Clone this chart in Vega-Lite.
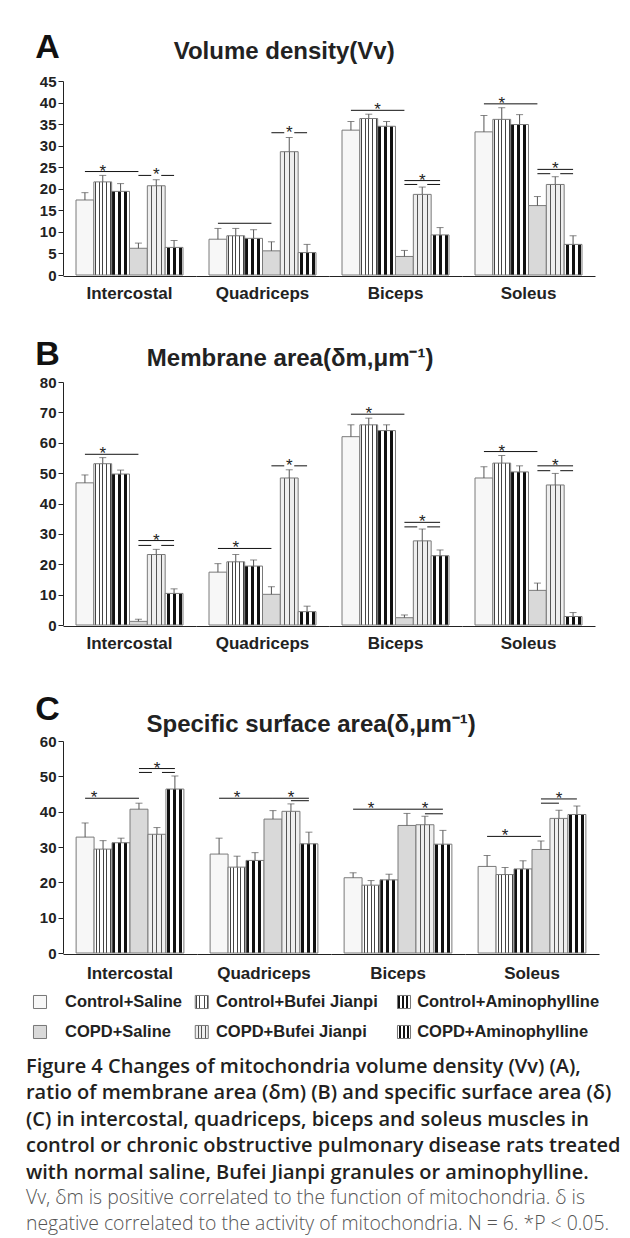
{
  "$schema": "https://vega.github.io/schema/vega-lite/v6.json",
  "padding": {"left": 25, "top": 31, "right": 0, "bottom": 2},
  "background": "white",
  "datasets": {
    "A": [
      {"muscle":"Intercostal","group":"Control+Saline","mean":17.4,"top":19.1},
      {"muscle":"Intercostal","group":"Control+Bufei Jianpi","mean":21.6,"top":23.1},
      {"muscle":"Intercostal","group":"Control+Aminophylline","mean":19.4,"top":21.2},
      {"muscle":"Intercostal","group":"COPD+Saline","mean":6.2,"top":7.4},
      {"muscle":"Intercostal","group":"COPD+Bufei Jianpi","mean":20.7,"top":22.1},
      {"muscle":"Intercostal","group":"COPD+Aminophylline","mean":6.4,"top":8.0},
      {"muscle":"Quadriceps","group":"Control+Saline","mean":8.3,"top":10.8},
      {"muscle":"Quadriceps","group":"Control+Bufei Jianpi","mean":9.1,"top":10.8},
      {"muscle":"Quadriceps","group":"Control+Aminophylline","mean":8.5,"top":10.5},
      {"muscle":"Quadriceps","group":"COPD+Saline","mean":5.6,"top":7.7},
      {"muscle":"Quadriceps","group":"COPD+Bufei Jianpi","mean":28.6,"top":31.9},
      {"muscle":"Quadriceps","group":"COPD+Aminophylline","mean":5.2,"top":7.1},
      {"muscle":"Biceps","group":"Control+Saline","mean":33.6,"top":35.6},
      {"muscle":"Biceps","group":"Control+Bufei Jianpi","mean":36.3,"top":37.3},
      {"muscle":"Biceps","group":"Control+Aminophylline","mean":34.5,"top":35.6},
      {"muscle":"Biceps","group":"COPD+Saline","mean":4.3,"top":5.7},
      {"muscle":"Biceps","group":"COPD+Bufei Jianpi","mean":18.7,"top":20.4},
      {"muscle":"Biceps","group":"COPD+Aminophylline","mean":9.3,"top":11.0},
      {"muscle":"Soleus","group":"Control+Saline","mean":33.2,"top":37.0},
      {"muscle":"Soleus","group":"Control+Bufei Jianpi","mean":36.1,"top":38.8},
      {"muscle":"Soleus","group":"Control+Aminophylline","mean":34.9,"top":37.2},
      {"muscle":"Soleus","group":"COPD+Saline","mean":16.1,"top":18.2},
      {"muscle":"Soleus","group":"COPD+Bufei Jianpi","mean":21.0,"top":22.8},
      {"muscle":"Soleus","group":"COPD+Aminophylline","mean":7.1,"top":9.1},
      {"muscle":"Intercostal","kind":"full","from":"Control+Saline","to":"COPD+Saline","lvl":24.0},
      {"muscle":"Intercostal","kind":"star","at":"Control+Bufei Jianpi","lvl":24.0},
      {"muscle":"Intercostal","kind":"split","from":"COPD+Saline","mid":"COPD+Bufei Jianpi","to":"COPD+Aminophylline","lvl":23.1},
      {"muscle":"Intercostal","kind":"star","at":"COPD+Bufei Jianpi","lvl":23.1},
      {"muscle":"Quadriceps","kind":"full","from":"Control+Saline","to":"COPD+Saline","lvl":12.0},
      {"muscle":"Quadriceps","kind":"split","from":"COPD+Saline","mid":"COPD+Bufei Jianpi","to":"COPD+Aminophylline","lvl":33.0},
      {"muscle":"Quadriceps","kind":"star","at":"COPD+Bufei Jianpi","lvl":33.0},
      {"muscle":"Biceps","kind":"full","from":"Control+Saline","to":"COPD+Saline","lvl":38.2},
      {"muscle":"Biceps","kind":"starE","at":"Control+Bufei Jianpi","lvl":38.2},
      {"muscle":"Biceps","kind":"full","from":"COPD+Saline","to":"COPD+Aminophylline","lvl":21.9},
      {"muscle":"Biceps","kind":"split","from":"COPD+Saline","mid":"COPD+Bufei Jianpi","to":"COPD+Aminophylline","lvl":21.0},
      {"muscle":"Biceps","kind":"star","at":"COPD+Bufei Jianpi","lvl":21.9},
      {"muscle":"Soleus","kind":"full","from":"Control+Saline","to":"COPD+Saline","lvl":39.7},
      {"muscle":"Soleus","kind":"star","at":"Control+Bufei Jianpi","lvl":39.7},
      {"muscle":"Soleus","kind":"full","from":"COPD+Saline","to":"COPD+Aminophylline","lvl":24.5},
      {"muscle":"Soleus","kind":"split","from":"COPD+Saline","mid":"COPD+Bufei Jianpi","to":"COPD+Aminophylline","lvl":23.5},
      {"muscle":"Soleus","kind":"star","at":"COPD+Bufei Jianpi","lvl":24.5}
    ],
    "B": [
      {"muscle":"Intercostal","group":"Control+Saline","mean":46.8,"top":49.4},
      {"muscle":"Intercostal","group":"Control+Bufei Jianpi","mean":53.1,"top":55.1},
      {"muscle":"Intercostal","group":"Control+Aminophylline","mean":49.7,"top":51.0},
      {"muscle":"Intercostal","group":"COPD+Saline","mean":1.2,"top":1.9},
      {"muscle":"Intercostal","group":"COPD+Bufei Jianpi","mean":23.2,"top":24.9},
      {"muscle":"Intercostal","group":"COPD+Aminophylline","mean":10.4,"top":11.9},
      {"muscle":"Quadriceps","group":"Control+Saline","mean":17.4,"top":20.2},
      {"muscle":"Quadriceps","group":"Control+Bufei Jianpi","mean":20.8,"top":23.2},
      {"muscle":"Quadriceps","group":"Control+Aminophylline","mean":19.4,"top":21.4},
      {"muscle":"Quadriceps","group":"COPD+Saline","mean":10.1,"top":12.6},
      {"muscle":"Quadriceps","group":"COPD+Bufei Jianpi","mean":48.4,"top":51.1},
      {"muscle":"Quadriceps","group":"COPD+Aminophylline","mean":4.4,"top":6.2},
      {"muscle":"Biceps","group":"Control+Saline","mean":62.0,"top":65.9},
      {"muscle":"Biceps","group":"Control+Bufei Jianpi","mean":65.9,"top":68.1},
      {"muscle":"Biceps","group":"Control+Aminophylline","mean":64.0,"top":65.9},
      {"muscle":"Biceps","group":"COPD+Saline","mean":2.4,"top":3.3},
      {"muscle":"Biceps","group":"COPD+Bufei Jianpi","mean":27.7,"top":31.6},
      {"muscle":"Biceps","group":"COPD+Aminophylline","mean":22.8,"top":24.7},
      {"muscle":"Soleus","group":"Control+Saline","mean":48.4,"top":52.1},
      {"muscle":"Soleus","group":"Control+Bufei Jianpi","mean":53.3,"top":55.8},
      {"muscle":"Soleus","group":"Control+Aminophylline","mean":50.4,"top":52.4},
      {"muscle":"Soleus","group":"COPD+Saline","mean":11.4,"top":13.8},
      {"muscle":"Soleus","group":"COPD+Bufei Jianpi","mean":46.1,"top":49.9},
      {"muscle":"Soleus","group":"COPD+Aminophylline","mean":2.8,"top":4.1},
      {"muscle":"Intercostal","kind":"full","from":"Control+Saline","to":"COPD+Saline","lvl":56.2},
      {"muscle":"Intercostal","kind":"star","at":"Control+Bufei Jianpi","lvl":56.2},
      {"muscle":"Intercostal","kind":"full","from":"COPD+Saline","to":"COPD+Aminophylline","lvl":27.8},
      {"muscle":"Intercostal","kind":"split","from":"COPD+Saline","mid":"COPD+Bufei Jianpi","to":"COPD+Aminophylline","lvl":26.2},
      {"muscle":"Intercostal","kind":"star","at":"COPD+Bufei Jianpi","lvl":27.8},
      {"muscle":"Quadriceps","kind":"full","from":"Control+Saline","to":"COPD+Saline","lvl":25.2},
      {"muscle":"Quadriceps","kind":"star","at":"Control+Bufei Jianpi","lvl":25.2},
      {"muscle":"Quadriceps","kind":"split","from":"COPD+Saline","mid":"COPD+Bufei Jianpi","to":"COPD+Aminophylline","lvl":52.4},
      {"muscle":"Quadriceps","kind":"star","at":"COPD+Bufei Jianpi","lvl":52.4},
      {"muscle":"Biceps","kind":"full","from":"Control+Saline","to":"COPD+Saline","lvl":69.4},
      {"muscle":"Biceps","kind":"star","at":"Control+Bufei Jianpi","lvl":69.4},
      {"muscle":"Biceps","kind":"full","from":"COPD+Saline","to":"COPD+Aminophylline","lvl":33.8},
      {"muscle":"Biceps","kind":"split","from":"COPD+Saline","mid":"COPD+Bufei Jianpi","to":"COPD+Aminophylline","lvl":32.3},
      {"muscle":"Biceps","kind":"star","at":"COPD+Bufei Jianpi","lvl":33.8},
      {"muscle":"Soleus","kind":"full","from":"Control+Saline","to":"COPD+Saline","lvl":57.1},
      {"muscle":"Soleus","kind":"star","at":"Control+Bufei Jianpi","lvl":57.1},
      {"muscle":"Soleus","kind":"full","from":"COPD+Saline","to":"COPD+Aminophylline","lvl":52.4},
      {"muscle":"Soleus","kind":"split","from":"COPD+Saline","mid":"COPD+Bufei Jianpi","to":"COPD+Aminophylline","lvl":50.8},
      {"muscle":"Soleus","kind":"star","at":"COPD+Bufei Jianpi","lvl":52.4}
    ],
    "C": [
      {"muscle":"Intercostal","group":"Control+Saline","mean":32.8,"top":36.8},
      {"muscle":"Intercostal","group":"Control+Bufei Jianpi","mean":29.4,"top":31.8},
      {"muscle":"Intercostal","group":"Control+Aminophylline","mean":31.2,"top":32.5},
      {"muscle":"Intercostal","group":"COPD+Saline","mean":40.7,"top":42.4},
      {"muscle":"Intercostal","group":"COPD+Bufei Jianpi","mean":33.6,"top":35.5},
      {"muscle":"Intercostal","group":"COPD+Aminophylline","mean":46.4,"top":50.1},
      {"muscle":"Quadriceps","group":"Control+Saline","mean":28.0,"top":32.5},
      {"muscle":"Quadriceps","group":"Control+Bufei Jianpi","mean":24.3,"top":27.4},
      {"muscle":"Quadriceps","group":"Control+Aminophylline","mean":26.2,"top":28.4},
      {"muscle":"Quadriceps","group":"COPD+Saline","mean":37.9,"top":40.3},
      {"muscle":"Quadriceps","group":"COPD+Bufei Jianpi","mean":40.1,"top":42.2},
      {"muscle":"Quadriceps","group":"COPD+Aminophylline","mean":30.9,"top":34.2},
      {"muscle":"Biceps","group":"Control+Saline","mean":21.3,"top":22.7},
      {"muscle":"Biceps","group":"Control+Bufei Jianpi","mean":19.2,"top":20.5},
      {"muscle":"Biceps","group":"Control+Aminophylline","mean":20.7,"top":22.3},
      {"muscle":"Biceps","group":"COPD+Saline","mean":36.1,"top":39.5},
      {"muscle":"Biceps","group":"COPD+Bufei Jianpi","mean":36.3,"top":38.7},
      {"muscle":"Biceps","group":"COPD+Aminophylline","mean":30.8,"top":34.7},
      {"muscle":"Soleus","group":"Control+Saline","mean":24.5,"top":27.6},
      {"muscle":"Soleus","group":"Control+Bufei Jianpi","mean":22.2,"top":24.2},
      {"muscle":"Soleus","group":"Control+Aminophylline","mean":23.8,"top":26.1},
      {"muscle":"Soleus","group":"COPD+Saline","mean":29.3,"top":31.7},
      {"muscle":"Soleus","group":"COPD+Bufei Jianpi","mean":38.1,"top":40.4},
      {"muscle":"Soleus","group":"COPD+Aminophylline","mean":39.2,"top":41.6},
      {"muscle":"Intercostal","kind":"full","from":"Control+Saline","to":"COPD+Saline","lvl":43.8},
      {"muscle":"Intercostal","kind":"starE","at":"Control+Saline","lvl":43.8},
      {"muscle":"Intercostal","kind":"full","from":"COPD+Saline","to":"COPD+Aminophylline","lvl":52.2},
      {"muscle":"Intercostal","kind":"split","from":"COPD+Saline","mid":"COPD+Bufei Jianpi","to":"COPD+Aminophylline","lvl":51.1},
      {"muscle":"Intercostal","kind":"star","at":"COPD+Bufei Jianpi","lvl":52.2},
      {"muscle":"Quadriceps","kind":"full","from":"Control+Saline","to":"COPD+Saline","lvl":43.8},
      {"muscle":"Quadriceps","kind":"star","at":"Control+Bufei Jianpi","lvl":43.8},
      {"muscle":"Quadriceps","kind":"full","from":"COPD+Saline","to":"COPD+Aminophylline","lvl":43.8},
      {"muscle":"Quadriceps","kind":"full","from":"COPD+Bufei Jianpi","to":"COPD+Aminophylline","lvl":43.1},
      {"muscle":"Quadriceps","kind":"star","at":"COPD+Bufei Jianpi","lvl":43.8},
      {"muscle":"Biceps","kind":"full","from":"Control+Saline","to":"COPD+Saline","lvl":40.7},
      {"muscle":"Biceps","kind":"star","at":"Control+Bufei Jianpi","lvl":40.7},
      {"muscle":"Biceps","kind":"full","from":"COPD+Saline","to":"COPD+Aminophylline","lvl":40.7},
      {"muscle":"Biceps","kind":"full","from":"COPD+Bufei Jianpi","to":"COPD+Aminophylline","lvl":39.4},
      {"muscle":"Biceps","kind":"star","at":"COPD+Bufei Jianpi","lvl":40.7},
      {"muscle":"Soleus","kind":"full","from":"Control+Saline","to":"COPD+Saline","lvl":33.0},
      {"muscle":"Soleus","kind":"star","at":"Control+Bufei Jianpi","lvl":33.0},
      {"muscle":"Soleus","kind":"full","from":"COPD+Saline","to":"COPD+Aminophylline","lvl":43.6},
      {"muscle":"Soleus","kind":"full","from":"COPD+Saline","to":"COPD+Bufei Jianpi","lvl":42.4},
      {"muscle":"Soleus","kind":"star","at":"COPD+Bufei Jianpi","lvl":43.6}
    ],
    "legend": [
      {"model":"Control","treatment":"Saline","group":"Control+Saline"},
      {"model":"Control","treatment":"Bufei Jianpi","group":"Control+Bufei Jianpi"},
      {"model":"Control","treatment":"Aminophylline","group":"Control+Aminophylline"},
      {"model":"COPD","treatment":"Saline","group":"COPD+Saline"},
      {"model":"COPD","treatment":"Bufei Jianpi","group":"COPD+Bufei Jianpi"},
      {"model":"COPD","treatment":"Aminophylline","group":"COPD+Aminophylline"}
    ]
  },
  "vconcat": [
    {
      "spacing": 41,
      "vconcat": [
        {
          "spacing": 36,
          "vconcat": [
            {
              "title": {"text": "A", "anchor": "start", "fontSize": 34, "fontWeight": "bold", "font": "Liberation Sans", "color": "#111", "dx": -4, "offset": -25},
              "vconcat": [
                {
                  "data": {"name": "A"},
                  "title": {"text": "Volume density(Vv)", "anchor": "middle", "fontSize": 24, "fontWeight": "bold", "font": "Liberation Sans", "color": "#222", "dx": -33, "offset": 10},
                  "facet": {"column": {"field": "muscle", "type": "nominal", "title": null, "sort": ["Intercostal","Quadriceps","Biceps","Soleus"], "header": {"title": null, "labelOrient": "bottom", "labelPadding": 10}}},
                  "spacing": {"column": 0},
                  "spec": {
                    "width": 133, "height": 194,
                    "layer": [
                      {"transform": [{"filter": "isValid(datum.mean)"}],
                       "mark": {"type": "bar", "stroke": "#7a7a7a", "strokeWidth": 1},
                       "encoding": {
                         "x": {"field": "group", "type": "nominal", "title": null, "scale": {"domain": ["Control+Saline","Control+Bufei Jianpi","Control+Aminophylline","COPD+Saline","COPD+Bufei Jianpi","COPD+Aminophylline"], "paddingInner": 0, "paddingOuter": 0.73}},
                         "y": {"field": "mean", "type": "quantitative", "title": null, "scale": {"domain": [0, 45], "nice": false}, "axis": {"values": [0,5,10,15,20,25,30,35,40,45], "title": null}},
                         "fill": {"condition": [
                           {"test": "datum.group === 'Control+Saline'", "value": "#f7f7f7"},
                           {"test": "datum.group === 'Control+Bufei Jianpi'", "value": {"gradient": "linear", "x1": 0, "y1": 0, "x2": 1, "y2": 0, "stops": [{"offset": 0, "color": "#fff"}, {"offset": 0.08, "color": "#fff"}, {"offset": 0.08, "color": "#444"}, {"offset": 0.14, "color": "#444"}, {"offset": 0.14, "color": "#fff"}, {"offset": 0.28, "color": "#fff"}, {"offset": 0.28, "color": "#444"}, {"offset": 0.34, "color": "#444"}, {"offset": 0.34, "color": "#fff"}, {"offset": 0.48, "color": "#fff"}, {"offset": 0.48, "color": "#444"}, {"offset": 0.54, "color": "#444"}, {"offset": 0.54, "color": "#fff"}, {"offset": 0.68, "color": "#fff"}, {"offset": 0.68, "color": "#444"}, {"offset": 0.74, "color": "#444"}, {"offset": 0.74, "color": "#fff"}, {"offset": 0.88, "color": "#fff"}, {"offset": 0.88, "color": "#444"}, {"offset": 0.94, "color": "#444"}, {"offset": 0.94, "color": "#fff"}, {"offset": 1, "color": "#fff"}]}},
                           {"test": "datum.group === 'Control+Aminophylline'", "value": {"gradient": "linear", "x1": 0, "y1": 0, "x2": 1, "y2": 0, "stops": [{"offset": 0, "color": "#111"}, {"offset": 0.167, "color": "#111"}, {"offset": 0.167, "color": "#fff"}, {"offset": 0.333, "color": "#fff"}, {"offset": 0.333, "color": "#111"}, {"offset": 0.5, "color": "#111"}, {"offset": 0.5, "color": "#fff"}, {"offset": 0.667, "color": "#fff"}, {"offset": 0.667, "color": "#111"}, {"offset": 0.833, "color": "#111"}, {"offset": 0.833, "color": "#fff"}, {"offset": 1, "color": "#fff"}]}},
                           {"test": "datum.group === 'COPD+Saline'", "value": "#d9d9d9"},
                           {"test": "datum.group === 'COPD+Bufei Jianpi'", "value": {"gradient": "linear", "x1": 0, "y1": 0, "x2": 1, "y2": 0, "stops": [{"offset": 0, "color": "#eee"}, {"offset": 0.2, "color": "#eee"}, {"offset": 0.2, "color": "#555"}, {"offset": 0.26, "color": "#555"}, {"offset": 0.26, "color": "#eee"}, {"offset": 0.47, "color": "#eee"}, {"offset": 0.47, "color": "#555"}, {"offset": 0.53, "color": "#555"}, {"offset": 0.53, "color": "#eee"}, {"offset": 0.74, "color": "#eee"}, {"offset": 0.74, "color": "#555"}, {"offset": 0.8, "color": "#555"}, {"offset": 0.8, "color": "#eee"}, {"offset": 1, "color": "#eee"}]}},
                           {"test": "datum.group === 'COPD+Aminophylline'", "value": {"gradient": "linear", "x1": 0, "y1": 0, "x2": 1, "y2": 0, "stops": [{"offset": 0, "color": "#fff"}, {"offset": 0.083, "color": "#fff"}, {"offset": 0.083, "color": "#111"}, {"offset": 0.25, "color": "#111"}, {"offset": 0.25, "color": "#fff"}, {"offset": 0.417, "color": "#fff"}, {"offset": 0.417, "color": "#111"}, {"offset": 0.583, "color": "#111"}, {"offset": 0.583, "color": "#fff"}, {"offset": 0.75, "color": "#fff"}, {"offset": 0.75, "color": "#111"}, {"offset": 0.917, "color": "#111"}, {"offset": 0.917, "color": "#fff"}, {"offset": 1, "color": "#fff"}]}}
                         ], "value": "#fff"}
                       }},
                      {"transform": [{"filter": "isValid(datum.mean)"}],
                       "mark": {"type": "rule", "color": "#555", "strokeWidth": 1},
                       "encoding": {"x": {"field": "group", "type": "nominal", "bandPosition": 0.5, "title": null}, "y": {"field": "mean", "type": "quantitative", "title": null, "axis": {"values": [0,5,10,15,20,25,30,35,40,45], "title": null}}, "y2": {"field": "top"}}},
                      {"transform": [{"filter": "isValid(datum.mean)"}],
                       "mark": {"type": "tick", "color": "#555", "thickness": 1, "size": 7},
                       "encoding": {"x": {"field": "group", "type": "nominal", "title": null}, "y": {"field": "top", "type": "quantitative", "title": null, "axis": {"values": [0,5,10,15,20,25,30,35,40,45], "title": null}}}},
                      {"transform": [{"filter": "datum.kind === 'full'"}],
                       "mark": {"type": "rule", "color": "#111", "strokeWidth": 1},
                       "encoding": {"x": {"field": "from", "type": "nominal", "bandPosition": 0.5, "title": null}, "x2": {"field": "to", "bandPosition": 0.5}, "y": {"field": "lvl", "type": "quantitative", "title": null, "axis": {"values": [0,5,10,15,20,25,30,35,40,45], "title": null}}}},
                      {"transform": [{"filter": "datum.kind === 'split'"}],
                       "mark": {"type": "rule", "color": "#111", "strokeWidth": 1},
                       "encoding": {"x": {"field": "from", "type": "nominal", "bandPosition": 0.5, "title": null}, "x2": {"field": "mid", "bandPosition": 0.22}, "y": {"field": "lvl", "type": "quantitative", "title": null, "axis": {"values": [0,5,10,15,20,25,30,35,40,45], "title": null}}}},
                      {"transform": [{"filter": "datum.kind === 'split'"}],
                       "mark": {"type": "rule", "color": "#111", "strokeWidth": 1},
                       "encoding": {"x": {"field": "mid", "type": "nominal", "bandPosition": 0.78, "title": null}, "x2": {"field": "to", "bandPosition": 0.5}, "y": {"field": "lvl", "type": "quantitative", "title": null, "axis": {"values": [0,5,10,15,20,25,30,35,40,45], "title": null}}}},
                      {"transform": [{"filter": "datum.kind === 'star'"}],
                       "mark": {"type": "text", "text": "*", "fontSize": 17, "dy": 5, "baseline": "alphabetic", "color": "#222"},
                       "encoding": {"x": {"field": "at", "type": "nominal", "bandPosition": 0.5, "title": null}, "y": {"field": "lvl", "type": "quantitative", "title": null, "axis": {"values": [0,5,10,15,20,25,30,35,40,45], "title": null}}}},
                      {"transform": [{"filter": "datum.kind === 'starE'"}],
                       "mark": {"type": "text", "text": "*", "fontSize": 17, "dy": 5, "baseline": "alphabetic", "color": "#222"},
                       "encoding": {"x": {"field": "at", "type": "nominal", "bandPosition": 1, "title": null}, "y": {"field": "lvl", "type": "quantitative", "title": null, "axis": {"values": [0,5,10,15,20,25,30,35,40,45], "title": null}}}}
                    ]
                  }
                }
              ]
            },
            {
              "title": {"text": "B", "anchor": "start", "fontSize": 34, "fontWeight": "bold", "font": "Liberation Sans", "color": "#111", "dx": -4, "offset": -25},
              "vconcat": [
                {
                  "data": {"name": "B"},
                  "title": {"text": "Membrane area(δm,μm⁻¹)", "anchor": "middle", "fontSize": 24, "fontWeight": "bold", "font": "Liberation Sans", "color": "#222", "dx": -27, "offset": 4},
                  "facet": {"column": {"field": "muscle", "type": "nominal", "title": null, "sort": ["Intercostal","Quadriceps","Biceps","Soleus"], "header": {"title": null, "labelOrient": "bottom", "labelPadding": 10}}},
                  "spacing": {"column": 0},
                  "spec": {
                    "width": 133, "height": 243,
                    "layer": [
                      {"transform": [{"filter": "isValid(datum.mean)"}],
                       "mark": {"type": "bar", "stroke": "#7a7a7a", "strokeWidth": 1},
                       "encoding": {
                         "x": {"field": "group", "type": "nominal", "title": null, "scale": {"domain": ["Control+Saline","Control+Bufei Jianpi","Control+Aminophylline","COPD+Saline","COPD+Bufei Jianpi","COPD+Aminophylline"], "paddingInner": 0, "paddingOuter": 0.73}},
                         "y": {"field": "mean", "type": "quantitative", "title": null, "scale": {"domain": [0, 80], "nice": false}, "axis": {"values": [0,10,20,30,40,50,60,70,80], "title": null}},
                         "fill": {"condition": [
                           {"test": "datum.group === 'Control+Saline'", "value": "#f7f7f7"},
                           {"test": "datum.group === 'Control+Bufei Jianpi'", "value": {"gradient": "linear", "x1": 0, "y1": 0, "x2": 1, "y2": 0, "stops": [{"offset": 0, "color": "#fff"}, {"offset": 0.08, "color": "#fff"}, {"offset": 0.08, "color": "#444"}, {"offset": 0.14, "color": "#444"}, {"offset": 0.14, "color": "#fff"}, {"offset": 0.28, "color": "#fff"}, {"offset": 0.28, "color": "#444"}, {"offset": 0.34, "color": "#444"}, {"offset": 0.34, "color": "#fff"}, {"offset": 0.48, "color": "#fff"}, {"offset": 0.48, "color": "#444"}, {"offset": 0.54, "color": "#444"}, {"offset": 0.54, "color": "#fff"}, {"offset": 0.68, "color": "#fff"}, {"offset": 0.68, "color": "#444"}, {"offset": 0.74, "color": "#444"}, {"offset": 0.74, "color": "#fff"}, {"offset": 0.88, "color": "#fff"}, {"offset": 0.88, "color": "#444"}, {"offset": 0.94, "color": "#444"}, {"offset": 0.94, "color": "#fff"}, {"offset": 1, "color": "#fff"}]}},
                           {"test": "datum.group === 'Control+Aminophylline'", "value": {"gradient": "linear", "x1": 0, "y1": 0, "x2": 1, "y2": 0, "stops": [{"offset": 0, "color": "#111"}, {"offset": 0.167, "color": "#111"}, {"offset": 0.167, "color": "#fff"}, {"offset": 0.333, "color": "#fff"}, {"offset": 0.333, "color": "#111"}, {"offset": 0.5, "color": "#111"}, {"offset": 0.5, "color": "#fff"}, {"offset": 0.667, "color": "#fff"}, {"offset": 0.667, "color": "#111"}, {"offset": 0.833, "color": "#111"}, {"offset": 0.833, "color": "#fff"}, {"offset": 1, "color": "#fff"}]}},
                           {"test": "datum.group === 'COPD+Saline'", "value": "#d9d9d9"},
                           {"test": "datum.group === 'COPD+Bufei Jianpi'", "value": {"gradient": "linear", "x1": 0, "y1": 0, "x2": 1, "y2": 0, "stops": [{"offset": 0, "color": "#eee"}, {"offset": 0.2, "color": "#eee"}, {"offset": 0.2, "color": "#555"}, {"offset": 0.26, "color": "#555"}, {"offset": 0.26, "color": "#eee"}, {"offset": 0.47, "color": "#eee"}, {"offset": 0.47, "color": "#555"}, {"offset": 0.53, "color": "#555"}, {"offset": 0.53, "color": "#eee"}, {"offset": 0.74, "color": "#eee"}, {"offset": 0.74, "color": "#555"}, {"offset": 0.8, "color": "#555"}, {"offset": 0.8, "color": "#eee"}, {"offset": 1, "color": "#eee"}]}},
                           {"test": "datum.group === 'COPD+Aminophylline'", "value": {"gradient": "linear", "x1": 0, "y1": 0, "x2": 1, "y2": 0, "stops": [{"offset": 0, "color": "#fff"}, {"offset": 0.083, "color": "#fff"}, {"offset": 0.083, "color": "#111"}, {"offset": 0.25, "color": "#111"}, {"offset": 0.25, "color": "#fff"}, {"offset": 0.417, "color": "#fff"}, {"offset": 0.417, "color": "#111"}, {"offset": 0.583, "color": "#111"}, {"offset": 0.583, "color": "#fff"}, {"offset": 0.75, "color": "#fff"}, {"offset": 0.75, "color": "#111"}, {"offset": 0.917, "color": "#111"}, {"offset": 0.917, "color": "#fff"}, {"offset": 1, "color": "#fff"}]}}
                         ], "value": "#fff"}
                       }},
                      {"transform": [{"filter": "isValid(datum.mean)"}],
                       "mark": {"type": "rule", "color": "#555", "strokeWidth": 1},
                       "encoding": {"x": {"field": "group", "type": "nominal", "bandPosition": 0.5, "title": null}, "y": {"field": "mean", "type": "quantitative", "title": null, "axis": {"values": [0,10,20,30,40,50,60,70,80], "title": null}}, "y2": {"field": "top"}}},
                      {"transform": [{"filter": "isValid(datum.mean)"}],
                       "mark": {"type": "tick", "color": "#555", "thickness": 1, "size": 7},
                       "encoding": {"x": {"field": "group", "type": "nominal", "title": null}, "y": {"field": "top", "type": "quantitative", "title": null, "axis": {"values": [0,10,20,30,40,50,60,70,80], "title": null}}}},
                      {"transform": [{"filter": "datum.kind === 'full'"}],
                       "mark": {"type": "rule", "color": "#111", "strokeWidth": 1},
                       "encoding": {"x": {"field": "from", "type": "nominal", "bandPosition": 0.5, "title": null}, "x2": {"field": "to", "bandPosition": 0.5}, "y": {"field": "lvl", "type": "quantitative", "title": null, "axis": {"values": [0,10,20,30,40,50,60,70,80], "title": null}}}},
                      {"transform": [{"filter": "datum.kind === 'split'"}],
                       "mark": {"type": "rule", "color": "#111", "strokeWidth": 1},
                       "encoding": {"x": {"field": "from", "type": "nominal", "bandPosition": 0.5, "title": null}, "x2": {"field": "mid", "bandPosition": 0.22}, "y": {"field": "lvl", "type": "quantitative", "title": null, "axis": {"values": [0,10,20,30,40,50,60,70,80], "title": null}}}},
                      {"transform": [{"filter": "datum.kind === 'split'"}],
                       "mark": {"type": "rule", "color": "#111", "strokeWidth": 1},
                       "encoding": {"x": {"field": "mid", "type": "nominal", "bandPosition": 0.78, "title": null}, "x2": {"field": "to", "bandPosition": 0.5}, "y": {"field": "lvl", "type": "quantitative", "title": null, "axis": {"values": [0,10,20,30,40,50,60,70,80], "title": null}}}},
                      {"transform": [{"filter": "datum.kind === 'star'"}],
                       "mark": {"type": "text", "text": "*", "fontSize": 17, "dy": 5, "baseline": "alphabetic", "color": "#222"},
                       "encoding": {"x": {"field": "at", "type": "nominal", "bandPosition": 0.5, "title": null}, "y": {"field": "lvl", "type": "quantitative", "title": null, "axis": {"values": [0,10,20,30,40,50,60,70,80], "title": null}}}},
                      {"transform": [{"filter": "datum.kind === 'starE'"}],
                       "mark": {"type": "text", "text": "*", "fontSize": 17, "dy": 5, "baseline": "alphabetic", "color": "#222"},
                       "encoding": {"x": {"field": "at", "type": "nominal", "bandPosition": 1, "title": null}, "y": {"field": "lvl", "type": "quantitative", "title": null, "axis": {"values": [0,10,20,30,40,50,60,70,80], "title": null}}}}
                    ]
                  }
                }
              ]
            }
          ]
        },
        {
          "title": {"text": "C", "anchor": "start", "fontSize": 34, "fontWeight": "bold", "font": "Liberation Sans", "color": "#111", "dx": -4, "offset": -14},
          "vconcat": [
            {
              "data": {"name": "C"},
              "title": {"text": "Specific surface area(δ,μm⁻¹)", "anchor": "middle", "fontSize": 24, "fontWeight": "bold", "font": "Liberation Sans", "color": "#222", "dx": -8, "offset": -3},
              "facet": {"column": {"field": "muscle", "type": "nominal", "title": null, "sort": ["Intercostal","Quadriceps","Biceps","Soleus"], "header": {"title": null, "labelOrient": "bottom", "labelPadding": 12}}},
              "spacing": {"column": 0},
              "spec": {
                "width": 134, "height": 212,
                "layer": [
                  {"transform": [{"filter": "isValid(datum.mean)"}],
                   "mark": {"type": "bar", "stroke": "#7a7a7a", "strokeWidth": 1},
                   "encoding": {
                     "x": {"field": "group", "type": "nominal", "title": null, "scale": {"domain": ["Control+Saline","Control+Bufei Jianpi","Control+Aminophylline","COPD+Saline","COPD+Bufei Jianpi","COPD+Aminophylline"], "paddingInner": 0, "paddingOuter": 0.73}},
                     "y": {"field": "mean", "type": "quantitative", "title": null, "scale": {"domain": [0, 60], "nice": false}, "axis": {"values": [0,10,20,30,40,50,60], "title": null}},
                     "fill": {"condition": [
                       {"test": "datum.group === 'Control+Saline'", "value": "#f7f7f7"},
                       {"test": "datum.group === 'Control+Bufei Jianpi'", "value": {"gradient": "linear", "x1": 0, "y1": 0, "x2": 1, "y2": 0, "stops": [{"offset": 0, "color": "#fff"}, {"offset": 0.08, "color": "#fff"}, {"offset": 0.08, "color": "#444"}, {"offset": 0.14, "color": "#444"}, {"offset": 0.14, "color": "#fff"}, {"offset": 0.28, "color": "#fff"}, {"offset": 0.28, "color": "#444"}, {"offset": 0.34, "color": "#444"}, {"offset": 0.34, "color": "#fff"}, {"offset": 0.48, "color": "#fff"}, {"offset": 0.48, "color": "#444"}, {"offset": 0.54, "color": "#444"}, {"offset": 0.54, "color": "#fff"}, {"offset": 0.68, "color": "#fff"}, {"offset": 0.68, "color": "#444"}, {"offset": 0.74, "color": "#444"}, {"offset": 0.74, "color": "#fff"}, {"offset": 0.88, "color": "#fff"}, {"offset": 0.88, "color": "#444"}, {"offset": 0.94, "color": "#444"}, {"offset": 0.94, "color": "#fff"}, {"offset": 1, "color": "#fff"}]}},
                       {"test": "datum.group === 'Control+Aminophylline'", "value": {"gradient": "linear", "x1": 0, "y1": 0, "x2": 1, "y2": 0, "stops": [{"offset": 0, "color": "#111"}, {"offset": 0.167, "color": "#111"}, {"offset": 0.167, "color": "#fff"}, {"offset": 0.333, "color": "#fff"}, {"offset": 0.333, "color": "#111"}, {"offset": 0.5, "color": "#111"}, {"offset": 0.5, "color": "#fff"}, {"offset": 0.667, "color": "#fff"}, {"offset": 0.667, "color": "#111"}, {"offset": 0.833, "color": "#111"}, {"offset": 0.833, "color": "#fff"}, {"offset": 1, "color": "#fff"}]}},
                       {"test": "datum.group === 'COPD+Saline'", "value": "#d9d9d9"},
                       {"test": "datum.group === 'COPD+Bufei Jianpi'", "value": {"gradient": "linear", "x1": 0, "y1": 0, "x2": 1, "y2": 0, "stops": [{"offset": 0, "color": "#eee"}, {"offset": 0.2, "color": "#eee"}, {"offset": 0.2, "color": "#555"}, {"offset": 0.26, "color": "#555"}, {"offset": 0.26, "color": "#eee"}, {"offset": 0.47, "color": "#eee"}, {"offset": 0.47, "color": "#555"}, {"offset": 0.53, "color": "#555"}, {"offset": 0.53, "color": "#eee"}, {"offset": 0.74, "color": "#eee"}, {"offset": 0.74, "color": "#555"}, {"offset": 0.8, "color": "#555"}, {"offset": 0.8, "color": "#eee"}, {"offset": 1, "color": "#eee"}]}},
                       {"test": "datum.group === 'COPD+Aminophylline'", "value": {"gradient": "linear", "x1": 0, "y1": 0, "x2": 1, "y2": 0, "stops": [{"offset": 0, "color": "#fff"}, {"offset": 0.083, "color": "#fff"}, {"offset": 0.083, "color": "#111"}, {"offset": 0.25, "color": "#111"}, {"offset": 0.25, "color": "#fff"}, {"offset": 0.417, "color": "#fff"}, {"offset": 0.417, "color": "#111"}, {"offset": 0.583, "color": "#111"}, {"offset": 0.583, "color": "#fff"}, {"offset": 0.75, "color": "#fff"}, {"offset": 0.75, "color": "#111"}, {"offset": 0.917, "color": "#111"}, {"offset": 0.917, "color": "#fff"}, {"offset": 1, "color": "#fff"}]}}
                     ], "value": "#fff"}
                   }},
                  {"transform": [{"filter": "isValid(datum.mean)"}],
                   "mark": {"type": "rule", "color": "#555", "strokeWidth": 1},
                   "encoding": {"x": {"field": "group", "type": "nominal", "bandPosition": 0.5, "title": null}, "y": {"field": "mean", "type": "quantitative", "title": null, "axis": {"values": [0,10,20,30,40,50,60], "title": null}}, "y2": {"field": "top"}}},
                  {"transform": [{"filter": "isValid(datum.mean)"}],
                   "mark": {"type": "tick", "color": "#555", "thickness": 1, "size": 7},
                   "encoding": {"x": {"field": "group", "type": "nominal", "title": null}, "y": {"field": "top", "type": "quantitative", "title": null, "axis": {"values": [0,10,20,30,40,50,60], "title": null}}}},
                  {"transform": [{"filter": "datum.kind === 'full'"}],
                   "mark": {"type": "rule", "color": "#111", "strokeWidth": 1},
                   "encoding": {"x": {"field": "from", "type": "nominal", "bandPosition": 0.5, "title": null}, "x2": {"field": "to", "bandPosition": 0.5}, "y": {"field": "lvl", "type": "quantitative", "title": null, "axis": {"values": [0,10,20,30,40,50,60], "title": null}}}},
                  {"transform": [{"filter": "datum.kind === 'split'"}],
                   "mark": {"type": "rule", "color": "#111", "strokeWidth": 1},
                   "encoding": {"x": {"field": "from", "type": "nominal", "bandPosition": 0.5, "title": null}, "x2": {"field": "mid", "bandPosition": 0.22}, "y": {"field": "lvl", "type": "quantitative", "title": null, "axis": {"values": [0,10,20,30,40,50,60], "title": null}}}},
                  {"transform": [{"filter": "datum.kind === 'split'"}],
                   "mark": {"type": "rule", "color": "#111", "strokeWidth": 1},
                   "encoding": {"x": {"field": "mid", "type": "nominal", "bandPosition": 0.78, "title": null}, "x2": {"field": "to", "bandPosition": 0.5}, "y": {"field": "lvl", "type": "quantitative", "title": null, "axis": {"values": [0,10,20,30,40,50,60], "title": null}}}},
                  {"transform": [{"filter": "datum.kind === 'star'"}],
                   "mark": {"type": "text", "text": "*", "fontSize": 17, "dy": 5, "baseline": "alphabetic", "color": "#222"},
                   "encoding": {"x": {"field": "at", "type": "nominal", "bandPosition": 0.5, "title": null}, "y": {"field": "lvl", "type": "quantitative", "title": null, "axis": {"values": [0,10,20,30,40,50,60], "title": null}}}},
                  {"transform": [{"filter": "datum.kind === 'starE'"}],
                   "mark": {"type": "text", "text": "*", "fontSize": 17, "dy": 5, "baseline": "alphabetic", "color": "#222"},
                   "encoding": {"x": {"field": "at", "type": "nominal", "bandPosition": 1, "title": null}, "y": {"field": "lvl", "type": "quantitative", "title": null, "axis": {"values": [0,10,20,30,40,50,60], "title": null}}}}
                ]
              }
            }
          ]
        }
      ]
    },
    {
      "data": {"name": "legend"},
      "width": 364, "height": 30,
      "resolve": {"scale": {"x": "independent"}},
      "layer": [
        {"mark": {"type": "square", "size": 170, "stroke": "#777", "strokeWidth": 1, "opacity": 1, "xOffset": -23},
         "encoding": {
           "x": {"field": "treatment", "type": "nominal", "title": null, "scale": {"type": "point", "domain": ["Saline"," 1"," 2"," 3","Bufei Jianpi"," 4"," 5"," 6"," 7","Aminophylline"], "padding": 0}, "axis": null},
           "y": {"field": "model", "type": "nominal", "title": null, "scale": {"type": "point", "domain": ["Control","COPD"], "padding": 0}, "axis": null},
           "fill": {"condition": [
             {"test": "datum.group === 'Control+Saline'", "value": "#f7f7f7"},
             {"test": "datum.group === 'Control+Bufei Jianpi'", "value": {"gradient": "linear", "x1": 0, "y1": 0, "x2": 1, "y2": 0, "stops": [{"offset": 0, "color": "#fff"}, {"offset": 0.08, "color": "#fff"}, {"offset": 0.08, "color": "#444"}, {"offset": 0.14, "color": "#444"}, {"offset": 0.14, "color": "#fff"}, {"offset": 0.28, "color": "#fff"}, {"offset": 0.28, "color": "#444"}, {"offset": 0.34, "color": "#444"}, {"offset": 0.34, "color": "#fff"}, {"offset": 0.48, "color": "#fff"}, {"offset": 0.48, "color": "#444"}, {"offset": 0.54, "color": "#444"}, {"offset": 0.54, "color": "#fff"}, {"offset": 0.68, "color": "#fff"}, {"offset": 0.68, "color": "#444"}, {"offset": 0.74, "color": "#444"}, {"offset": 0.74, "color": "#fff"}, {"offset": 0.88, "color": "#fff"}, {"offset": 0.88, "color": "#444"}, {"offset": 0.94, "color": "#444"}, {"offset": 0.94, "color": "#fff"}, {"offset": 1, "color": "#fff"}]}},
             {"test": "datum.group === 'Control+Aminophylline'", "value": {"gradient": "linear", "x1": 0, "y1": 0, "x2": 1, "y2": 0, "stops": [{"offset": 0, "color": "#111"}, {"offset": 0.167, "color": "#111"}, {"offset": 0.167, "color": "#fff"}, {"offset": 0.333, "color": "#fff"}, {"offset": 0.333, "color": "#111"}, {"offset": 0.5, "color": "#111"}, {"offset": 0.5, "color": "#fff"}, {"offset": 0.667, "color": "#fff"}, {"offset": 0.667, "color": "#111"}, {"offset": 0.833, "color": "#111"}, {"offset": 0.833, "color": "#fff"}, {"offset": 1, "color": "#fff"}]}},
             {"test": "datum.group === 'COPD+Saline'", "value": "#d9d9d9"},
             {"test": "datum.group === 'COPD+Bufei Jianpi'", "value": {"gradient": "linear", "x1": 0, "y1": 0, "x2": 1, "y2": 0, "stops": [{"offset": 0, "color": "#eee"}, {"offset": 0.2, "color": "#eee"}, {"offset": 0.2, "color": "#555"}, {"offset": 0.26, "color": "#555"}, {"offset": 0.26, "color": "#eee"}, {"offset": 0.47, "color": "#eee"}, {"offset": 0.47, "color": "#555"}, {"offset": 0.53, "color": "#555"}, {"offset": 0.53, "color": "#eee"}, {"offset": 0.74, "color": "#eee"}, {"offset": 0.74, "color": "#555"}, {"offset": 0.8, "color": "#555"}, {"offset": 0.8, "color": "#eee"}, {"offset": 1, "color": "#eee"}]}},
             {"test": "datum.group === 'COPD+Aminophylline'", "value": {"gradient": "linear", "x1": 0, "y1": 0, "x2": 1, "y2": 0, "stops": [{"offset": 0, "color": "#fff"}, {"offset": 0.083, "color": "#fff"}, {"offset": 0.083, "color": "#111"}, {"offset": 0.25, "color": "#111"}, {"offset": 0.25, "color": "#fff"}, {"offset": 0.417, "color": "#fff"}, {"offset": 0.417, "color": "#111"}, {"offset": 0.583, "color": "#111"}, {"offset": 0.583, "color": "#fff"}, {"offset": 0.75, "color": "#fff"}, {"offset": 0.75, "color": "#111"}, {"offset": 0.917, "color": "#111"}, {"offset": 0.917, "color": "#fff"}, {"offset": 1, "color": "#fff"}]}}
           ], "value": "#fff"}
         }},
        {"mark": {"type": "text", "align": "left", "baseline": "middle", "xOffset": 2, "fontSize": 16.5, "fontWeight": "bold", "font": "Liberation Sans", "color": "#222"},
         "encoding": {
           "x": {"field": "treatment", "type": "nominal", "title": null, "scale": {"type": "point", "domain": ["Saline"," 1"," 2","Bufei Jianpi"," 3"," 4"," 5","Aminophylline"], "padding": 0.118, "align": 0}, "axis": null},
           "y": {"field": "model", "type": "nominal", "title": null},
           "text": {"field": "group"}
         }}
      ]
    }
  ],
  "spacing": 11,
  "title": {
    "text": ["Figure 4 Changes of mitochondria volume density (Vv) (A),", "ratio of membrane area (δm) (B) and specific surface area (δ)", "(C) in intercostal, quadriceps, biceps and soleus muscles in", "control or chronic obstructive pulmonary disease rats treated", "with normal saline, Bufei Jianpi granules or aminophylline."],
    "subtitle": ["Vv, δm is positive correlated to the function of mitochondria. δ is", "negative correlated to the activity of mitochondria. N = 6. *P < 0.05."],
    "orient": "bottom", "anchor": "start", "frame": "bounds",
    "font": "Open Sans", "fontSize": 20, "fontWeight": 600, "color": "#231f20", "lineHeight": 26.5,
    "subtitleFont": "Open Sans", "subtitleFontSize": 19.4, "subtitleFontWeight": 300, "subtitleColor": "#555", "subtitleLineHeight": 26.5, "subtitlePadding": 6,
    "offset": 16, "dx": -5.5
  },
  "config": {
    "view": {"stroke": null},
    "font": "Liberation Sans",
    "axis": {"grid": false, "domainColor": "#222", "tickColor": "#222", "labelColor": "#222", "labelFont": "Liberation Sans", "labelFontWeight": "bold", "labelFontSize": 15, "tickSize": 5, "labelPadding": 2},
    "axisX": {"labels": false, "ticks": false},
    "header": {"labelFont": "Liberation Sans", "labelFontWeight": "bold", "labelFontSize": 17, "labelColor": "#222"}
  }
}
